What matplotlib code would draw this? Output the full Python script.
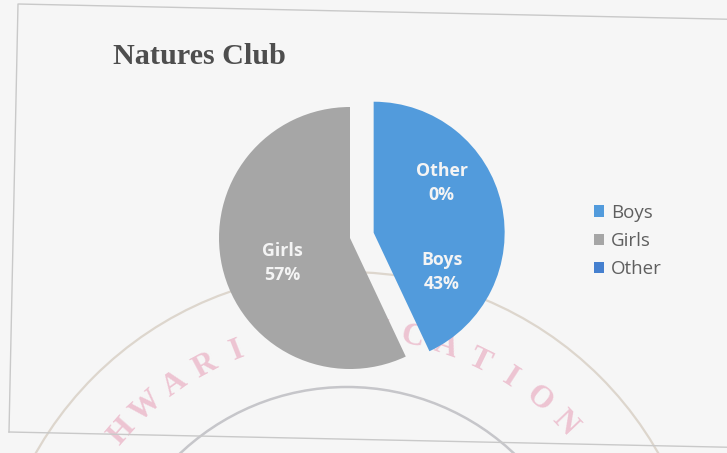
import numpy as np
import matplotlib
matplotlib.use('Agg')
import matplotlib.pyplot as plt
from matplotlib.lines import Line2D
from matplotlib.patches import Circle

# data
categories = ['Boys', 'Girls', 'Other']
shares = [43, 57, 0]
slice_colors = ['#529bdc', '#a6a6a6', '#4580cf']

title = 'Natures Club'
stamp_text = 'MAHESHWARI EDUCATION SOCIETY'

W, H = 727, 453
fig = plt.figure(figsize=(W / 100, H / 100), dpi=100)
fig.patch.set_facecolor('#f6f6f6')
ax = fig.add_axes([0, 0, 1, 1])
ax.set_facecolor('#f6f6f6')


def flip(y):
    # image rows -> axis coords (y up)
    return H - y


# faint stamp from the scanned page, drawn under the chart
stamp_c = (347, flip(630))
ax.add_patch(Circle(stamp_c, 358, fill=False, ec='#ddd6cd', lw=1.6, zorder=0))
ax.add_patch(Circle(stamp_c, 243, fill=False, ec='#c6c6ca', lw=1.8, zorder=0))
for i, ch in enumerate(stamp_text):
    if ch == ' ':
        continue
    phi = -21.5 + (i - 9) * 6.8
    r = np.radians(phi)
    x, y = stamp_c[0] + 300 * np.sin(r), stamp_c[1] + 300 * np.cos(r)
    if y < 18:
        continue
    ax.text(x, y, ch, rotation=-phi, ha='center', va='center', fontsize=23,
            family='Liberation Serif', fontweight='bold', color='#edc4d2',
            zorder=0.5)

# chart border (page is slightly skewed)
ax.add_line(Line2D([9, 18, 740], [flip(432), flip(4), flip(19.5)],
                   color='#c9c9c9', lw=1.0, zorder=1))
ax.add_line(Line2D([9, 740], [flip(432), flip(447.5)],
                   color='#c9c9c9', lw=1.0, zorder=1))

# pie
R = 131
center = (350, flip(238))
wedges, _ = ax.pie(shares, colors=slice_colors, startangle=90, counterclock=False,
                   radius=R, center=center, explode=[0.185 * R, 0, 0],
                   wedgeprops={'linewidth': 0}, frame=True)

label_kw = dict(ha='center', va='center', fontsize=12.8, family='Open Sans',
                fontweight='bold', color='#f4f4f4', linespacing=1.45, zorder=5)
boys_c = wedges[0].center
ax.text(center[0] - 0.52 * R, center[1] - 0.19 * R,
        '%s\n%d%%' % (categories[1], shares[1]), **label_kw)
ax.text(boys_c[0] + 0.52 * R, boys_c[1] - 0.30 * R,
        '%s\n%d%%' % (categories[0], shares[0]), **label_kw)
ax.text(boys_c[0] + 0.52 * R, boys_c[1] + 0.38 * R,
        '%s\n%d%%' % (categories[2], shares[2]), **label_kw)

ax.text(113, flip(57), title, ha='left', va='center', fontsize=21.7,
        family='Liberation Serif', fontweight='bold', color='#4e4e4e')

leg = ax.legend(wedges, categories, loc='center left',
                bbox_to_anchor=(594 / W, 1 - 241 / H), frameon=False,
                borderpad=0, borderaxespad=0,
                handlelength=0.55, handleheight=0.55, handletextpad=0.35,
                labelspacing=0.55, prop={'family': 'Open Sans', 'size': 13.5})
for t in leg.get_texts():
    t.set_color('#5f5f5f')

ax.set_xlim(0, W)
ax.set_ylim(0, H)
ax.set_aspect('equal')
ax.axis('off')

fig.savefig('out.png', dpi=100, facecolor=fig.get_facecolor())
